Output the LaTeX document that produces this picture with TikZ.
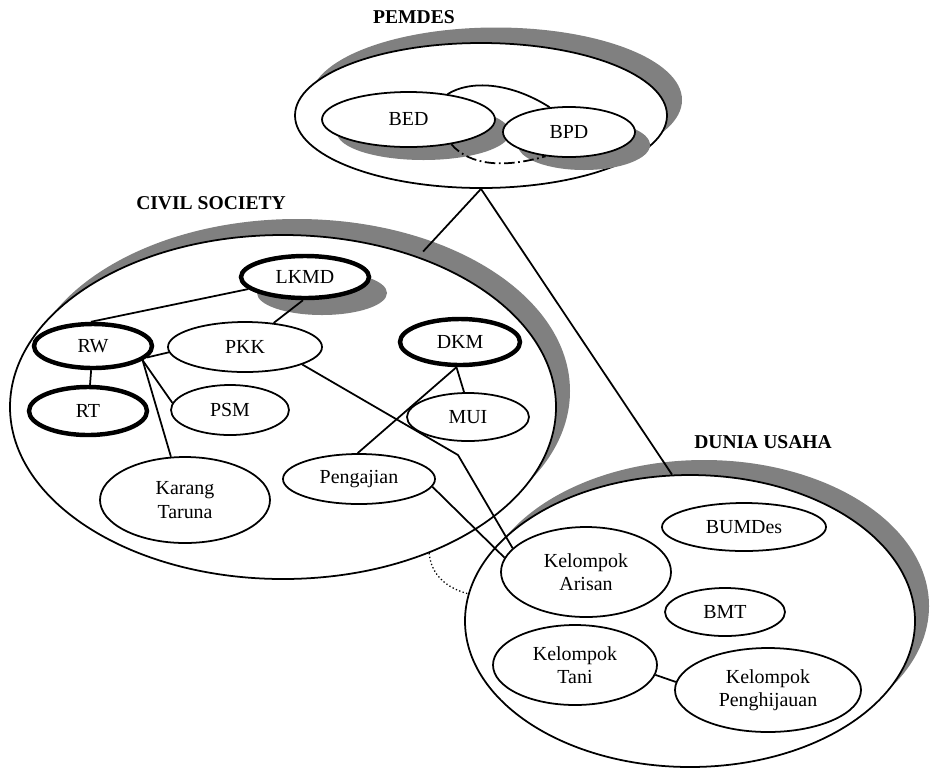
\documentclass[tikz,border=0pt]{standalone}
\usepackage{fontspec}
\setmainfont{Liberation Serif}
\usetikzlibrary{shapes.geometric}

\tikzset{
   org/.style 2 args={ellipse, draw, fill=white, inner sep=0pt, align=center,
      minimum width=#1*0.06cm, minimum height=#2*0.06cm,
      font=\fontsize{17}{20}\selectfont},
   shadowell/.style 2 args={ellipse, fill=gray, inner sep=0pt,
      minimum width=#1*0.06cm, minimum height=#2*0.06cm},
   heavy/.style={line width=3.8pt},
   grouplabel/.style={font=\fontsize{16.7}{20}\selectfont\bfseries}
}

\begin{document}
\begin{tikzpicture}[x=0.03cm, y=-0.03cm, line width=1.5pt]

   \useasboundingbox (0,0) rectangle (930,772);

   \begin{scope}
    \node[shadowell={186}{72.5}] (pemdessh) at (496,100) {};
    \node[shadowell={273}{172}] (civilsh) at (297,391) {};
    \node[shadowell={225}{146}] (duniash) at (704,606) {};
   \end{scope}

   \begin{scope}
    \node[org={273}{172}] (civil) at (283,407) {};
    \node[org={225}{146}] (dunia) at (690,621) {};
    \node[org={186}{72.5}] (pemdes) at (481,115.5) {};
   \end{scope}

   \begin{scope}[every node/.style={grouplabel}]
    \node (pemdeslabel) at (414,17) {PEMDES};
    \node (civillabel) at (211,203) {CIVIL SOCIETY};
    \node (dunialabel) at (763,442) {DUNIA USAHA};
   \end{scope}

   \begin{scope}
    \node[shadowell={86.5}{27.5}] (bedsh) at (423.5,132.5) {};
    \node[shadowell={66}{25}] (bpdsh) at (584,145) {};
    \node[shadowell={65}{22}] (lkmdsh) at (322,293) {};
   \end{scope}

   \begin{scope}
    \node[org={86.5}{27.5}] (bed) at (408.5,119.5) {BED};
    \node[org={66}{25}] (bpd) at (569,132) {BPD};
    \node[org={64}{21}, heavy] (lkmd) at (305,277) {LKMD};
    \node[org={59}{22}, heavy] (rw) at (93,346) {RW};
    \node[org={59}{24}, heavy] (rt) at (88,411) {RT};
    \node[org={77}{25}] (pkk) at (245,347) {PKK};
    \node[org={59}{25}] (psm) at (230,410) {PSM};
    \node[org={85}{43}] (karang) at (185,500) {Karang\\Taruna};
    \node[org={60}{23}, heavy] (dkm) at (460,342) {DKM};
    \node[org={61}{24}] (mui) at (468,417) {MUI};
    \node[org={76}{25}] (pengajian) at (359,479) {Pengajian};
    \node[org={85}{45}] (arisan) at (586,572) {Kelompok\\Arisan};
    \node[org={82}{24}] (bumdes) at (744,527) {BUMDes};
    \node[org={60}{24}] (bmt) at (725,612) {BMT};
    \node[org={82}{40}] (tani) at (575,665) {Kelompok\\Tani};
    \node[org={93}{42}] (hijau) at (768,690) {Kelompok\\Penghijauan};
   \end{scope}

   \coordinate (bend) at (458,455);

\draw[shorten >=6pt] (pemdes.south) -- (civil.48);
\draw (pemdes.south) -- (dunia.97);
\draw (bed.33) .. controls (470,80) and (510,82) .. (bpd.128);
\draw[dash pattern=on 9pt off 3pt on 1.5pt off 3pt] (bed.-30) .. controls (470,166) and (505,168) .. (bpd.226);
\draw (lkmd.192) -- (rw.95);
\draw (lkmd.265) -- (pkk.40);
\draw (rw.-12) -- (pkk.184);
\draw (rw) -- (rt);
\draw (rw.-16) -- (psm.173);
\draw (rw.-16) -- (karang.108);
\draw (pkk.-17) -- (bend) -- (arisan.162);
\draw (dkm.-98) -- (pengajian.93);
\draw (dkm.-98) -- (mui.99);
\draw (pengajian.-6) -- (arisan.170);
\draw (tani.-7) -- (hijau.175);
\draw[dotted, line width=1.1pt] (civil.-45) to[out=-85, in=165] (dunia.173);
\end{tikzpicture}
\end{document}
